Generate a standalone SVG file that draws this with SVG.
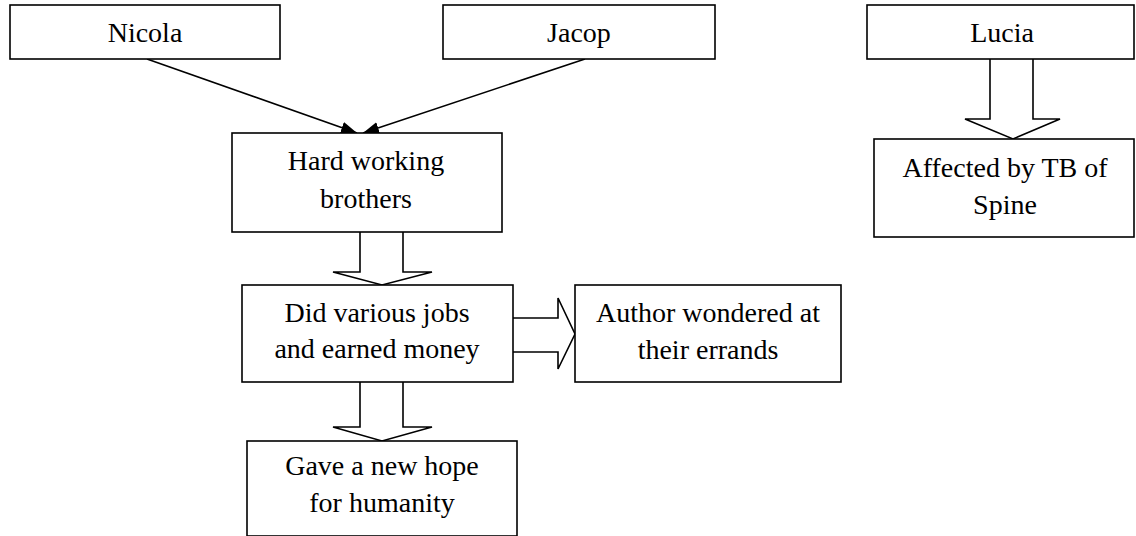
<svg xmlns="http://www.w3.org/2000/svg" width="1136" height="536" viewBox="0 0 1136 536">
  <style>
    .box { fill: #ffffff; stroke: #000000; stroke-width: 1.6; }
    .lbl { font-family: "Liberation Serif", "Times New Roman", serif; font-size: 28px; fill: #000000; text-anchor: middle; }
    .line { fill: none; stroke: #000000; stroke-width: 1.6; }
    .block { fill: #ffffff; stroke: #000000; stroke-width: 1.6; stroke-linejoin: miter; }
  </style>
  <defs>
    <marker id="tri" viewBox="0 0 16 12" refX="16" refY="6" markerWidth="16" markerHeight="12" markerUnits="userSpaceOnUse" orient="auto">
      <path d="M0,0 L16,6 L0,12 Z" fill="#000000"/>
    </marker>
  </defs>
  <rect width="1136" height="536" fill="#ffffff"/>

  <!-- connectors -->
  <g id="connectors">
    <line class="line" x1="147" y1="59" x2="357" y2="133" marker-end="url(#tri)"/>
    <line class="line" x1="585" y1="59" x2="363" y2="133" marker-end="url(#tri)"/>
    <!-- block arrows -->
    <path class="block" d="M990,59 L990,119 L965,119 L1013,139 L1060,119 L1033,119 L1033,59"/>
    <path class="block" d="M360,232 L360,272 L333,272 L382,285 L432,272 L403,272 L403,232"/>
    <path class="block" d="M360,382 L360,427 L333,427 L382,441 L432,427 L403,427 L403,382"/>
    <path class="block" d="M513,318 L558,318 L558,298 L575,334 L558,369 L558,352 L513,352"/>
  </g>

  <g id="nicola">
    <rect class="box" x="10" y="5" width="270" height="54"/>
    <text class="lbl" x="145" y="42">Nicola</text>
  </g>
  <g id="jacop">
    <rect class="box" x="443" y="5" width="272" height="54"/>
    <text class="lbl" x="579" y="42">Jacop</text>
  </g>
  <g id="lucia">
    <rect class="box" x="867" y="5" width="267" height="54"/>
    <text class="lbl" x="1002" y="42">Lucia</text>
  </g>
  <g id="tb-spine">
    <rect class="box" x="874" y="139" width="260" height="98"/>
    <text class="lbl" x="1005" y="177">Affected by TB of</text>
    <text class="lbl" x="1005" y="214">Spine</text>
  </g>
  <g id="brothers">
    <rect class="box" x="232" y="133" width="270" height="99"/>
    <text class="lbl" x="366" y="170">Hard working</text>
    <text class="lbl" x="366" y="208">brothers</text>
  </g>
  <g id="jobs">
    <rect class="box" x="242" y="285" width="271" height="97"/>
    <text class="lbl" x="377" y="322">Did various jobs</text>
    <text class="lbl" x="377" y="358">and earned money</text>
  </g>
  <g id="author">
    <rect class="box" x="575" y="285" width="266" height="97"/>
    <text class="lbl" x="708" y="322">Author wondered at</text>
    <text class="lbl" x="708" y="359">their errands</text>
  </g>
  <g id="hope">
    <rect class="box" x="247" y="441" width="270" height="95"/>
    <text class="lbl" x="382" y="475">Gave a new hope</text>
    <text class="lbl" x="382" y="512">for humanity</text>
  </g>
</svg>
